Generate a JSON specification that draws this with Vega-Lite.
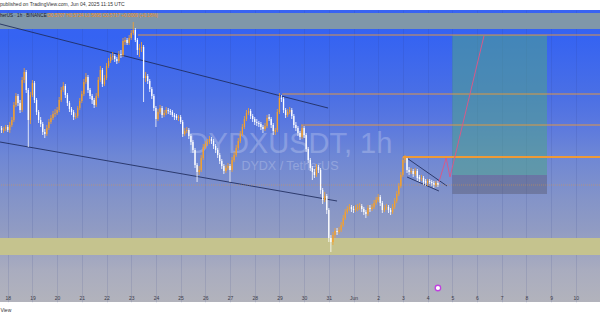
{
"$schema": "https://vega.github.io/schema/vega-lite/v6.json",
"width": 600, "height": 292,
"autosize": {"type": "none"},
"padding": {"top": 10, "bottom": 13, "left": 0, "right": 0},
"background": "#ffffff",
"title": {"text": "published on TradingView.com, Jun 04, 2025 11:15 UTC", "anchor": "start", "frame": "group", "fontSize": 5, "fontWeight": "normal", "color": "#333333", "offset": 3},
"config": {
  "font": "Liberation Sans",
  "view": {"stroke": null, "fill": {"gradient": "linear", "x1": 0, "y1": 0, "x2": 0, "y2": 1, "stops": [
    {"offset": 0, "color": "#3863f3"}, {"offset": 0.09, "color": "#3563f2"}, {"offset": 0.29, "color": "#4a6fe5"},
    {"offset": 0.39, "color": "#5a78df"}, {"offset": 0.5, "color": "#6e87d5"}, {"offset": 0.65, "color": "#8494c8"},
    {"offset": 0.75, "color": "#909bc3"}, {"offset": 0.89, "color": "#a9acbf"}, {"offset": 1, "color": "#b2b3bc"}]}}
},
"resolve": {"scale": {"color": "independent", "opacity": "independent", "strokeWidth": "independent"}},
"datasets": {"candles": [
{"t":"2025-05-17T16:00Z","o":0.624,"h":0.626,"l":0.619,"c":0.622},
{"t":"2025-05-17T18:00Z","o":0.622,"h":0.624,"l":0.617,"c":0.620},
{"t":"2025-05-17T20:00Z","o":0.619,"h":0.623,"l":0.617,"c":0.621},
{"t":"2025-05-17T22:00Z","o":0.621,"h":0.625,"l":0.619,"c":0.623},
{"t":"2025-05-18T00:00Z","o":0.623,"h":0.625,"l":0.618,"c":0.620},
{"t":"2025-05-18T02:00Z","o":0.620,"h":0.628,"l":0.617,"c":0.625},
{"t":"2025-05-18T04:00Z","o":0.625,"h":0.633,"l":0.623,"c":0.630},
{"t":"2025-05-18T06:00Z","o":0.630,"h":0.648,"l":0.628,"c":0.645},
{"t":"2025-05-18T08:00Z","o":0.645,"h":0.657,"l":0.643,"c":0.654},
{"t":"2025-05-18T10:00Z","o":0.654,"h":0.656,"l":0.644,"c":0.647},
{"t":"2025-05-18T12:00Z","o":0.647,"h":0.650,"l":0.637,"c":0.640},
{"t":"2025-05-18T14:00Z","o":0.640,"h":0.673,"l":0.638,"c":0.670},
{"t":"2025-05-18T16:00Z","o":0.670,"h":0.682,"l":0.667,"c":0.678},
{"t":"2025-05-18T18:00Z","o":0.678,"h":0.680,"l":0.657,"c":0.660},
{"t":"2025-05-18T20:00Z","o":0.660,"h":0.662,"l":0.603,"c":0.630},
{"t":"2025-05-18T22:00Z","o":0.630,"h":0.658,"l":0.626,"c":0.655},
{"t":"2025-05-19T00:00Z","o":0.655,"h":0.670,"l":0.653,"c":0.667},
{"t":"2025-05-19T02:00Z","o":0.667,"h":0.669,"l":0.647,"c":0.650},
{"t":"2025-05-19T04:00Z","o":0.650,"h":0.652,"l":0.635,"c":0.638},
{"t":"2025-05-19T06:00Z","o":0.638,"h":0.640,"l":0.627,"c":0.630},
{"t":"2025-05-19T08:00Z","o":0.630,"h":0.633,"l":0.623,"c":0.626},
{"t":"2025-05-19T10:00Z","o":0.626,"h":0.628,"l":0.615,"c":0.618},
{"t":"2025-05-19T12:00Z","o":0.618,"h":0.621,"l":0.612,"c":0.616},
{"t":"2025-05-19T14:00Z","o":0.616,"h":0.625,"l":0.614,"c":0.622},
{"t":"2025-05-19T16:00Z","o":0.622,"h":0.631,"l":0.620,"c":0.628},
{"t":"2025-05-19T18:00Z","o":0.628,"h":0.635,"l":0.626,"c":0.632},
{"t":"2025-05-19T20:00Z","o":0.632,"h":0.639,"l":0.630,"c":0.636},
{"t":"2025-05-19T22:00Z","o":0.636,"h":0.641,"l":0.633,"c":0.637},
{"t":"2025-05-20T00:00Z","o":0.637,"h":0.643,"l":0.635,"c":0.640},
{"t":"2025-05-20T02:00Z","o":0.640,"h":0.653,"l":0.638,"c":0.650},
{"t":"2025-05-20T04:00Z","o":0.650,"h":0.663,"l":0.648,"c":0.660},
{"t":"2025-05-20T06:00Z","o":0.660,"h":0.668,"l":0.658,"c":0.664},
{"t":"2025-05-20T08:00Z","o":0.664,"h":0.666,"l":0.652,"c":0.655},
{"t":"2025-05-20T10:00Z","o":0.655,"h":0.657,"l":0.644,"c":0.647},
{"t":"2025-05-20T12:00Z","o":0.647,"h":0.649,"l":0.638,"c":0.641},
{"t":"2025-05-20T14:00Z","o":0.641,"h":0.643,"l":0.635,"c":0.638},
{"t":"2025-05-20T16:00Z","o":0.638,"h":0.640,"l":0.630,"c":0.633},
{"t":"2025-05-20T18:00Z","o":0.633,"h":0.637,"l":0.631,"c":0.634},
{"t":"2025-05-20T20:00Z","o":0.634,"h":0.644,"l":0.632,"c":0.642},
{"t":"2025-05-20T22:00Z","o":0.642,"h":0.652,"l":0.640,"c":0.649},
{"t":"2025-05-21T00:00Z","o":0.649,"h":0.659,"l":0.647,"c":0.656},
{"t":"2025-05-21T02:00Z","o":0.656,"h":0.671,"l":0.654,"c":0.668},
{"t":"2025-05-21T04:00Z","o":0.668,"h":0.677,"l":0.666,"c":0.673},
{"t":"2025-05-21T06:00Z","o":0.673,"h":0.675,"l":0.657,"c":0.660},
{"t":"2025-05-21T08:00Z","o":0.660,"h":0.662,"l":0.651,"c":0.654},
{"t":"2025-05-21T10:00Z","o":0.654,"h":0.656,"l":0.646,"c":0.650},
{"t":"2025-05-21T12:00Z","o":0.650,"h":0.652,"l":0.642,"c":0.645},
{"t":"2025-05-21T14:00Z","o":0.645,"h":0.657,"l":0.643,"c":0.654},
{"t":"2025-05-21T16:00Z","o":0.654,"h":0.673,"l":0.652,"c":0.670},
{"t":"2025-05-21T18:00Z","o":0.670,"h":0.684,"l":0.668,"c":0.680},
{"t":"2025-05-21T20:00Z","o":0.680,"h":0.682,"l":0.663,"c":0.666},
{"t":"2025-05-21T22:00Z","o":0.666,"h":0.675,"l":0.664,"c":0.672},
{"t":"2025-05-22T00:00Z","o":0.672,"h":0.687,"l":0.670,"c":0.684},
{"t":"2025-05-22T02:00Z","o":0.684,"h":0.692,"l":0.682,"c":0.689},
{"t":"2025-05-22T04:00Z","o":0.689,"h":0.696,"l":0.687,"c":0.693},
{"t":"2025-05-22T06:00Z","o":0.693,"h":0.698,"l":0.690,"c":0.694},
{"t":"2025-05-22T08:00Z","o":0.694,"h":0.696,"l":0.688,"c":0.691},
{"t":"2025-05-22T10:00Z","o":0.691,"h":0.693,"l":0.686,"c":0.689},
{"t":"2025-05-22T12:00Z","o":0.689,"h":0.699,"l":0.687,"c":0.696},
{"t":"2025-05-22T14:00Z","o":0.696,"h":0.700,"l":0.692,"c":0.695},
{"t":"2025-05-22T16:00Z","o":0.695,"h":0.712,"l":0.693,"c":0.709},
{"t":"2025-05-22T18:00Z","o":0.708,"h":0.713,"l":0.705,"c":0.710},
{"t":"2025-05-22T20:00Z","o":0.710,"h":0.712,"l":0.705,"c":0.707},
{"t":"2025-05-22T22:00Z","o":0.707,"h":0.715,"l":0.705,"c":0.712},
{"t":"2025-05-23T00:00Z","o":0.712,"h":0.720,"l":0.710,"c":0.717},
{"t":"2025-05-23T02:00Z","o":0.717,"h":0.728,"l":0.715,"c":0.720},
{"t":"2025-05-23T04:00Z","o":0.720,"h":0.722,"l":0.708,"c":0.710},
{"t":"2025-05-23T06:00Z","o":0.710,"h":0.712,"l":0.695,"c":0.700},
{"t":"2025-05-23T08:00Z","o":0.700,"h":0.706,"l":0.693,"c":0.702},
{"t":"2025-05-23T10:00Z","o":0.702,"h":0.708,"l":0.698,"c":0.703},
{"t":"2025-05-23T12:00Z","o":0.703,"h":0.705,"l":0.648,"c":0.672},
{"t":"2025-05-23T14:00Z","o":0.672,"h":0.678,"l":0.668,"c":0.674},
{"t":"2025-05-23T16:00Z","o":0.674,"h":0.676,"l":0.666,"c":0.669},
{"t":"2025-05-23T18:00Z","o":0.669,"h":0.671,"l":0.658,"c":0.661},
{"t":"2025-05-23T20:00Z","o":0.661,"h":0.663,"l":0.651,"c":0.654},
{"t":"2025-05-23T22:00Z","o":0.654,"h":0.656,"l":0.639,"c":0.642},
{"t":"2025-05-24T00:00Z","o":0.642,"h":0.644,"l":0.623,"c":0.631},
{"t":"2025-05-24T02:00Z","o":0.631,"h":0.641,"l":0.629,"c":0.638},
{"t":"2025-05-24T04:00Z","o":0.638,"h":0.645,"l":0.636,"c":0.642},
{"t":"2025-05-24T06:00Z","o":0.642,"h":0.644,"l":0.632,"c":0.635},
{"t":"2025-05-24T08:00Z","o":0.635,"h":0.640,"l":0.633,"c":0.637},
{"t":"2025-05-24T10:00Z","o":0.637,"h":0.643,"l":0.635,"c":0.640},
{"t":"2025-05-24T12:00Z","o":0.640,"h":0.642,"l":0.636,"c":0.639},
{"t":"2025-05-24T14:00Z","o":0.639,"h":0.641,"l":0.635,"c":0.638},
{"t":"2025-05-24T16:00Z","o":0.638,"h":0.640,"l":0.633,"c":0.635},
{"t":"2025-05-24T18:00Z","o":0.635,"h":0.637,"l":0.630,"c":0.633},
{"t":"2025-05-24T20:00Z","o":0.634,"h":0.636,"l":0.630,"c":0.632},
{"t":"2025-05-24T22:00Z","o":0.632,"h":0.635,"l":0.629,"c":0.633},
{"t":"2025-05-25T00:00Z","o":0.633,"h":0.635,"l":0.626,"c":0.628},
{"t":"2025-05-25T02:00Z","o":0.628,"h":0.630,"l":0.613,"c":0.616},
{"t":"2025-05-25T04:00Z","o":0.616,"h":0.622,"l":0.614,"c":0.619},
{"t":"2025-05-25T06:00Z","o":0.619,"h":0.623,"l":0.617,"c":0.620},
{"t":"2025-05-25T08:00Z","o":0.620,"h":0.622,"l":0.611,"c":0.614},
{"t":"2025-05-25T10:00Z","o":0.614,"h":0.616,"l":0.605,"c":0.608},
{"t":"2025-05-25T12:00Z","o":0.608,"h":0.610,"l":0.597,"c":0.600},
{"t":"2025-05-25T14:00Z","o":0.600,"h":0.602,"l":0.582,"c":0.585},
{"t":"2025-05-25T16:00Z","o":0.585,"h":0.587,"l":0.568,"c":0.578},
{"t":"2025-05-25T18:00Z","o":0.578,"h":0.584,"l":0.575,"c":0.580},
{"t":"2025-05-25T20:00Z","o":0.580,"h":0.595,"l":0.578,"c":0.592},
{"t":"2025-05-25T22:00Z","o":0.592,"h":0.606,"l":0.590,"c":0.603},
{"t":"2025-05-26T00:00Z","o":0.603,"h":0.609,"l":0.601,"c":0.606},
{"t":"2025-05-26T02:00Z","o":0.606,"h":0.611,"l":0.604,"c":0.608},
{"t":"2025-05-26T04:00Z","o":0.608,"h":0.614,"l":0.606,"c":0.611},
{"t":"2025-05-26T06:00Z","o":0.611,"h":0.613,"l":0.606,"c":0.609},
{"t":"2025-05-26T08:00Z","o":0.609,"h":0.611,"l":0.601,"c":0.604},
{"t":"2025-05-26T10:00Z","o":0.604,"h":0.606,"l":0.597,"c":0.600},
{"t":"2025-05-26T12:00Z","o":0.600,"h":0.602,"l":0.592,"c":0.595},
{"t":"2025-05-26T14:00Z","o":0.595,"h":0.597,"l":0.586,"c":0.589},
{"t":"2025-05-26T16:00Z","o":0.589,"h":0.591,"l":0.581,"c":0.584},
{"t":"2025-05-26T18:00Z","o":0.584,"h":0.586,"l":0.576,"c":0.579},
{"t":"2025-05-26T20:00Z","o":0.579,"h":0.585,"l":0.577,"c":0.582},
{"t":"2025-05-26T22:00Z","o":0.582,"h":0.587,"l":0.580,"c":0.584},
{"t":"2025-05-27T00:00Z","o":0.584,"h":0.586,"l":0.568,"c":0.580},
{"t":"2025-05-27T02:00Z","o":0.580,"h":0.593,"l":0.578,"c":0.590},
{"t":"2025-05-27T04:00Z","o":0.590,"h":0.598,"l":0.588,"c":0.595},
{"t":"2025-05-27T06:00Z","o":0.595,"h":0.605,"l":0.593,"c":0.602},
{"t":"2025-05-27T08:00Z","o":0.602,"h":0.612,"l":0.600,"c":0.609},
{"t":"2025-05-27T10:00Z","o":0.609,"h":0.619,"l":0.607,"c":0.616},
{"t":"2025-05-27T12:00Z","o":0.616,"h":0.626,"l":0.614,"c":0.623},
{"t":"2025-05-27T14:00Z","o":0.623,"h":0.634,"l":0.621,"c":0.631},
{"t":"2025-05-27T16:00Z","o":0.631,"h":0.640,"l":0.629,"c":0.637},
{"t":"2025-05-27T18:00Z","o":0.637,"h":0.642,"l":0.635,"c":0.639},
{"t":"2025-05-27T20:00Z","o":0.639,"h":0.641,"l":0.631,"c":0.634},
{"t":"2025-05-27T22:00Z","o":0.634,"h":0.636,"l":0.628,"c":0.631},
{"t":"2025-05-28T00:00Z","o":0.631,"h":0.633,"l":0.625,"c":0.628},
{"t":"2025-05-28T02:00Z","o":0.628,"h":0.631,"l":0.624,"c":0.627},
{"t":"2025-05-28T04:00Z","o":0.627,"h":0.629,"l":0.623,"c":0.626},
{"t":"2025-05-28T06:00Z","o":0.626,"h":0.628,"l":0.620,"c":0.623},
{"t":"2025-05-28T08:00Z","o":0.623,"h":0.625,"l":0.617,"c":0.621},
{"t":"2025-05-28T10:00Z","o":0.621,"h":0.627,"l":0.619,"c":0.624},
{"t":"2025-05-28T12:00Z","o":0.624,"h":0.635,"l":0.622,"c":0.632},
{"t":"2025-05-28T14:00Z","o":0.633,"h":0.636,"l":0.629,"c":0.631},
{"t":"2025-05-28T16:00Z","o":0.631,"h":0.633,"l":0.622,"c":0.625},
{"t":"2025-05-28T18:00Z","o":0.625,"h":0.627,"l":0.615,"c":0.619},
{"t":"2025-05-28T20:00Z","o":0.618,"h":0.622,"l":0.615,"c":0.620},
{"t":"2025-05-28T22:00Z","o":0.620,"h":0.641,"l":0.618,"c":0.638},
{"t":"2025-05-29T00:00Z","o":0.638,"h":0.657,"l":0.636,"c":0.652},
{"t":"2025-05-29T02:00Z","o":0.652,"h":0.655,"l":0.648,"c":0.651},
{"t":"2025-05-29T04:00Z","o":0.651,"h":0.653,"l":0.637,"c":0.640},
{"t":"2025-05-29T06:00Z","o":0.640,"h":0.642,"l":0.632,"c":0.635},
{"t":"2025-05-29T08:00Z","o":0.635,"h":0.641,"l":0.633,"c":0.638},
{"t":"2025-05-29T10:00Z","o":0.638,"h":0.643,"l":0.636,"c":0.640},
{"t":"2025-05-29T12:00Z","o":0.640,"h":0.642,"l":0.631,"c":0.634},
{"t":"2025-05-29T14:00Z","o":0.634,"h":0.636,"l":0.622,"c":0.625},
{"t":"2025-05-29T16:00Z","o":0.625,"h":0.628,"l":0.619,"c":0.622},
{"t":"2025-05-29T18:00Z","o":0.622,"h":0.624,"l":0.614,"c":0.617},
{"t":"2025-05-29T20:00Z","o":0.617,"h":0.619,"l":0.610,"c":0.613},
{"t":"2025-05-29T22:00Z","o":0.613,"h":0.625,"l":0.611,"c":0.622},
{"t":"2025-05-30T00:00Z","o":0.622,"h":0.624,"l":0.612,"c":0.615},
{"t":"2025-05-30T02:00Z","o":0.615,"h":0.617,"l":0.598,"c":0.601},
{"t":"2025-05-30T04:00Z","o":0.601,"h":0.603,"l":0.587,"c":0.590},
{"t":"2025-05-30T06:00Z","o":0.590,"h":0.592,"l":0.579,"c":0.582},
{"t":"2025-05-30T08:00Z","o":0.582,"h":0.584,"l":0.570,"c":0.578},
{"t":"2025-05-30T10:00Z","o":0.578,"h":0.581,"l":0.572,"c":0.575},
{"t":"2025-05-30T12:00Z","o":0.575,"h":0.586,"l":0.573,"c":0.583},
{"t":"2025-05-30T14:00Z","o":0.583,"h":0.585,"l":0.577,"c":0.580},
{"t":"2025-05-30T16:00Z","o":0.580,"h":0.582,"l":0.556,"c":0.560},
{"t":"2025-05-30T18:00Z","o":0.560,"h":0.562,"l":0.546,"c":0.550},
{"t":"2025-05-30T20:00Z","o":0.550,"h":0.558,"l":0.548,"c":0.554},
{"t":"2025-05-30T22:00Z","o":0.554,"h":0.556,"l":0.536,"c":0.540},
{"t":"2025-05-31T00:00Z","o":0.540,"h":0.542,"l":0.508,"c":0.512},
{"t":"2025-05-31T02:00Z","o":0.512,"h":0.515,"l":0.498,"c":0.508},
{"t":"2025-05-31T04:00Z","o":0.508,"h":0.518,"l":0.505,"c":0.515},
{"t":"2025-05-31T06:00Z","o":0.515,"h":0.522,"l":0.512,"c":0.519},
{"t":"2025-05-31T08:00Z","o":0.519,"h":0.522,"l":0.515,"c":0.518},
{"t":"2025-05-31T10:00Z","o":0.518,"h":0.523,"l":0.516,"c":0.520},
{"t":"2025-05-31T12:00Z","o":0.520,"h":0.528,"l":0.518,"c":0.525},
{"t":"2025-05-31T14:00Z","o":0.525,"h":0.535,"l":0.523,"c":0.532},
{"t":"2025-05-31T16:00Z","o":0.532,"h":0.541,"l":0.530,"c":0.538},
{"t":"2025-05-31T18:00Z","o":0.538,"h":0.544,"l":0.536,"c":0.541},
{"t":"2025-05-31T20:00Z","o":0.541,"h":0.546,"l":0.539,"c":0.543},
{"t":"2025-05-31T22:00Z","o":0.543,"h":0.545,"l":0.538,"c":0.541},
{"t":"2025-06-01T00:00Z","o":0.541,"h":0.544,"l":0.537,"c":0.540},
{"t":"2025-06-01T02:00Z","o":0.540,"h":0.545,"l":0.538,"c":0.542},
{"t":"2025-06-01T04:00Z","o":0.541,"h":0.546,"l":0.539,"c":0.543},
{"t":"2025-06-01T06:00Z","o":0.543,"h":0.547,"l":0.540,"c":0.544},
{"t":"2025-06-01T08:00Z","o":0.544,"h":0.546,"l":0.538,"c":0.541},
{"t":"2025-06-01T10:00Z","o":0.541,"h":0.543,"l":0.535,"c":0.538},
{"t":"2025-06-01T12:00Z","o":0.538,"h":0.540,"l":0.532,"c":0.536},
{"t":"2025-06-01T14:00Z","o":0.536,"h":0.545,"l":0.534,"c":0.542},
{"t":"2025-06-01T16:00Z","o":0.542,"h":0.545,"l":0.538,"c":0.541},
{"t":"2025-06-01T18:00Z","o":0.541,"h":0.546,"l":0.539,"c":0.543},
{"t":"2025-06-01T20:00Z","o":0.543,"h":0.550,"l":0.541,"c":0.547},
{"t":"2025-06-01T22:00Z","o":0.547,"h":0.553,"l":0.545,"c":0.550},
{"t":"2025-06-02T00:00Z","o":0.550,"h":0.556,"l":0.548,"c":0.553},
{"t":"2025-06-02T02:00Z","o":0.553,"h":0.555,"l":0.544,"c":0.547},
{"t":"2025-06-02T04:00Z","o":0.547,"h":0.549,"l":0.537,"c":0.540},
{"t":"2025-06-02T06:00Z","o":0.540,"h":0.545,"l":0.538,"c":0.542},
{"t":"2025-06-02T08:00Z","o":0.542,"h":0.546,"l":0.540,"c":0.543},
{"t":"2025-06-02T10:00Z","o":0.543,"h":0.545,"l":0.537,"c":0.540},
{"t":"2025-06-02T12:00Z","o":0.540,"h":0.542,"l":0.535,"c":0.538},
{"t":"2025-06-02T14:00Z","o":0.538,"h":0.546,"l":0.536,"c":0.543},
{"t":"2025-06-02T16:00Z","o":0.543,"h":0.552,"l":0.541,"c":0.549},
{"t":"2025-06-02T18:00Z","o":0.549,"h":0.559,"l":0.547,"c":0.556},
{"t":"2025-06-02T20:00Z","o":0.556,"h":0.567,"l":0.554,"c":0.564},
{"t":"2025-06-02T22:00Z","o":0.564,"h":0.578,"l":0.562,"c":0.575},
{"t":"2025-06-03T00:00Z","o":0.575,"h":0.593,"l":0.573,"c":0.590},
{"t":"2025-06-03T02:00Z","o":0.590,"h":0.595,"l":0.587,"c":0.592},
{"t":"2025-06-03T04:00Z","o":0.592,"h":0.594,"l":0.577,"c":0.580},
{"t":"2025-06-03T06:00Z","o":0.580,"h":0.583,"l":0.575,"c":0.578},
{"t":"2025-06-03T08:00Z","o":0.578,"h":0.582,"l":0.576,"c":0.579},
{"t":"2025-06-03T10:00Z","o":0.579,"h":0.581,"l":0.573,"c":0.576},
{"t":"2025-06-03T12:00Z","o":0.576,"h":0.582,"l":0.574,"c":0.579},
{"t":"2025-06-03T14:00Z","o":0.579,"h":0.581,"l":0.569,"c":0.572},
{"t":"2025-06-03T16:00Z","o":0.573,"h":0.575,"l":0.568,"c":0.571},
{"t":"2025-06-03T18:00Z","o":0.571,"h":0.575,"l":0.569,"c":0.572},
{"t":"2025-06-03T20:00Z","o":0.572,"h":0.574,"l":0.565,"c":0.568},
{"t":"2025-06-03T22:00Z","o":0.569,"h":0.571,"l":0.564,"c":0.567},
{"t":"2025-06-04T00:00Z","o":0.567,"h":0.571,"l":0.564,"c":0.569},
{"t":"2025-06-04T02:00Z","o":0.569,"h":0.571,"l":0.566,"c":0.568},
{"t":"2025-06-04T04:00Z","o":0.568,"h":0.570,"l":0.564,"c":0.567},
{"t":"2025-06-04T06:00Z","o":0.567,"h":0.569,"l":0.562,"c":0.565},
{"t":"2025-06-04T08:00Z","o":0.565,"h":0.569,"l":0.563,"c":0.567},
{"t":"2025-06-04T10:00Z","o":0.567,"h":0.569,"l":0.563,"c":0.565}
]},
"encoding": {
  "x": {"field": "t", "type": "temporal", "title": null,
    "scale": {"type": "utc", "domain": [{"year": 2025, "month": "May", "date": 17, "hours": 16, "minutes": 30, "utc": true}, {"year": 2025, "month": "Jun", "date": 10, "hours": 23, "minutes": 30, "utc": true}]},
    "axis": {"orient": "bottom", "offset": -10, "domain": false, "ticks": false, "tickSize": 0, "labelPadding": 5, "labelBaseline": "middle", "labelFontSize": 5, "labelColor": "#3a3a48",
      "labelExpr": "utcdate(datum.value) == 1 ? 'Jun' : '' + utcdate(datum.value)", "labelOverlap": false, "labelBound": false, "labelFlush": false,
      "tickCount": {"interval": "day", "step": 1}, "grid": true, "gridColor": "#2a3a80", "gridOpacity": 0.12,
      "title": "View", "titleFontSize": 5, "titleFontWeight": "normal", "titleColor": "#333333", "titleAnchor": "start", "titleAlign": "left", "titleBaseline": "middle", "titleX": 0, "titleY": 17}}
},
"layer": [
  {"data": {"values": [
    {"t": "2025-05-17T00:00Z", "t2": "2025-06-12T00:00Z", "p": 0.737, "p2": 0.721}]},
   "mark": {"type": "rect", "clip": true, "color": "#8097a9"},
   "encoding": {
     "x2": {"field": "t2"},
     "y": {"field": "p", "type": "quantitative", "title": null, "scale": {"domain": [0.448, 0.74], "zero": false, "nice": false},
       "axis": {"orient": "right", "labels": false, "ticks": false, "domain": false, "title": null, "grid": true, "gridColor": "#2a3a80", "gridOpacity": 0.07, "tickCount": 10}},
     "y2": {"field": "p2"}}},
  {"data": {"values": [
    {"t": "2025-05-17T00:00Z", "t2": "2025-06-12T00:00Z", "p": 0.512, "p2": 0.495}]},
   "mark": {"type": "rect", "clip": true, "color": "#c5c38e"},
   "encoding": {
     "x2": {"field": "t2"},
     "y": {"field": "p", "type": "quantitative", "title": null, "scale": {"domain": [0.448, 0.74], "zero": false, "nice": false}, "axis": null},
     "y2": {"field": "p2"}}},
  {"data": {"values": [
    {"t": "2025-06-05T00:00Z", "t2": "2025-06-08T20:00Z", "p": 0.715, "p2": 0.575}]},
   "mark": {"type": "rect", "color": "#4fa28a", "opacity": 0.55},
   "encoding": {
     "x2": {"field": "t2"},
     "y": {"field": "p", "type": "quantitative", "title": null, "scale": {"domain": [0.448, 0.74], "zero": false, "nice": false}, "axis": null},
     "y2": {"field": "p2"}}},
  {"data": {"values": [
    {"t": "2025-06-05T00:00Z", "t2": "2025-06-08T20:00Z", "p": 0.575, "p2": 0.556}]},
   "mark": {"type": "rect", "color": "#585a70", "opacity": 0.45},
   "encoding": {
     "x2": {"field": "t2"},
     "y": {"field": "p", "type": "quantitative", "title": null, "scale": {"domain": [0.448, 0.74], "zero": false, "nice": false}, "axis": null},
     "y2": {"field": "p2"}}},
  {"data": {"values": [{"t": "2025-05-29T10:15Z", "p": 0.606, "s": "DYDXUSDT, 1h"}]},
   "mark": {"type": "text", "fontSize": 29, "color": "#ffffff", "opacity": 0.22, "align": "center", "baseline": "middle"},
   "encoding": {"y": {"field": "p", "type": "quantitative", "title": null, "scale": {"domain": [0.448, 0.74], "zero": false, "nice": false}, "axis": null}, "text": {"field": "s"}}},
  {"data": {"values": [{"t": "2025-05-29T10:15Z", "p": 0.584, "s": "DYDX / TetherUS"}]},
   "mark": {"type": "text", "fontSize": 12.5, "color": "#ffffff", "opacity": 0.22, "align": "center", "baseline": "middle"},
   "encoding": {"y": {"field": "p", "type": "quantitative", "title": null, "scale": {"domain": [0.448, 0.74], "zero": false, "nice": false}, "axis": null}, "text": {"field": "s"}}},
  {"data": {"values": [
    {"id": "u", "t": "2025-05-17T16:30Z", "p": 0.726}, {"id": "u", "t": "2025-05-30T23:15Z", "p": 0.642},
    {"id": "d", "t": "2025-05-17T16:30Z", "p": 0.608}, {"id": "d", "t": "2025-05-31T08:00Z", "p": 0.549},
    {"id": "fu", "t": "2025-06-03T01:00Z", "p": 0.594}, {"id": "fu", "t": "2025-06-04T18:50Z", "p": 0.564},
    {"id": "fd", "t": "2025-06-03T04:00Z", "p": 0.573}, {"id": "fd", "t": "2025-06-04T11:00Z", "p": 0.559}]},
   "mark": {"type": "line", "color": "#1f2b5c", "strokeWidth": 1, "opacity": 0.85},
   "encoding": {"y": {"field": "p", "type": "quantitative", "title": null, "scale": {"domain": [0.448, 0.74], "zero": false, "nice": false}, "axis": null}, "detail": {"field": "id"}}},
  {"data": {"name": "candles"},
   "mark": {"type": "rule", "strokeWidth": 0.8},
   "encoding": {
     "y": {"field": "h", "type": "quantitative", "title": null, "scale": {"domain": [0.448, 0.74], "zero": false, "nice": false}, "axis": null},
     "y2": {"field": "l"},
     "color": {"condition": {"test": "datum.c >= datum.o", "value": "#f7a12a"}, "value": "#ffffff"}}},
  {"data": {"name": "candles"},
   "mark": {"type": "rule", "strokeWidth": 1.3},
   "encoding": {
     "y": {"field": "o", "type": "quantitative", "title": null, "scale": {"domain": [0.448, 0.74], "zero": false, "nice": false}, "axis": null},
     "y2": {"field": "c"},
     "color": {"condition": {"test": "datum.c >= datum.o", "value": "#f7a12a"}, "value": "#ffffff"}}},
  {"data": {"values": [
    {"t": "2025-05-23T06:30Z", "t2": "2025-06-12T00:00Z", "p": 0.715},
    {"t": "2025-05-29T02:45Z", "t2": "2025-06-12T00:00Z", "p": 0.656},
    {"t": "2025-05-29T21:00Z", "t2": "2025-06-12T00:00Z", "p": 0.625}]},
   "mark": {"type": "rule", "clip": true, "color": "#ee9a36", "strokeWidth": 1, "opacity": 0.9},
   "encoding": {
     "x2": {"field": "t2"},
     "y": {"field": "p", "type": "quantitative", "title": null, "scale": {"domain": [0.448, 0.74], "zero": false, "nice": false}, "axis": null}}},
  {"data": {"values": [
    {"t": "2025-06-03T00:00Z", "t2": "2025-06-12T00:00Z", "p": 0.593}]},
   "mark": {"type": "rule", "clip": true, "color": "#ee9a36", "strokeWidth": 2},
   "encoding": {
     "x2": {"field": "t2"},
     "y": {"field": "p", "type": "quantitative", "title": null, "scale": {"domain": [0.448, 0.74], "zero": false, "nice": false}, "axis": null}}},
  {"data": {"values": [
    {"t": "2025-05-17T00:00Z", "t2": "2025-06-12T00:00Z", "p": 0.565}]},
   "mark": {"type": "rule", "clip": true, "color": "#ee9a36", "strokeWidth": 1, "opacity": 0.45, "strokeDash": [1, 1]},
   "encoding": {
     "x2": {"field": "t2"},
     "y": {"field": "p", "type": "quantitative", "title": null, "scale": {"domain": [0.448, 0.74], "zero": false, "nice": false}, "axis": null}}},
  {"data": {"values": [
    {"t": "2025-06-04T11:00Z", "p": 0.568}, {"t": "2025-06-04T18:00Z", "p": 0.592},
    {"t": "2025-06-04T21:45Z", "p": 0.573}, {"t": "2025-06-06T06:45Z", "p": 0.714}]},
   "mark": {"type": "line", "color": "#d65a8a", "strokeWidth": 1},
   "encoding": {"y": {"field": "p", "type": "quantitative", "title": null, "scale": {"domain": [0.448, 0.74], "zero": false, "nice": false}, "axis": null}}},
  {"data": {"values": [{"t": "2025-06-04T10:00Z", "p": 0.462}]},
   "mark": {"type": "point", "filled": true, "fill": "#ffffff", "stroke": "#c040e0", "strokeWidth": 1.3, "size": 30, "opacity": 1},
   "encoding": {"y": {"field": "p", "type": "quantitative", "title": null, "scale": {"domain": [0.448, 0.74], "zero": false, "nice": false}, "axis": null}}},
  {"data": {"values": [{"t": "2025-05-17T16:30Z", "p": 0.7345, "s": "herUS · 1h · BINANCE"}]},
   "mark": {"type": "text", "fontSize": 4.6, "color": "#1a1a2a", "align": "left", "baseline": "middle"},
   "encoding": {"y": {"field": "p", "type": "quantitative", "title": null, "scale": {"domain": [0.448, 0.74], "zero": false, "nice": false}, "axis": null}, "text": {"field": "s"}}},
  {"data": {"values": [{"t": "2025-05-19T14:10Z", "p": 0.7345, "s": "O0.5707  H0.5724  L0.5695  C0.5717  +0.0009 (+0.16%)"}]},
   "mark": {"type": "text", "fontSize": 4.6, "color": "#f08a1c", "align": "left", "baseline": "middle"},
   "encoding": {"y": {"field": "p", "type": "quantitative", "title": null, "scale": {"domain": [0.448, 0.74], "zero": false, "nice": false}, "axis": null}, "text": {"field": "s"}}}
]
}
